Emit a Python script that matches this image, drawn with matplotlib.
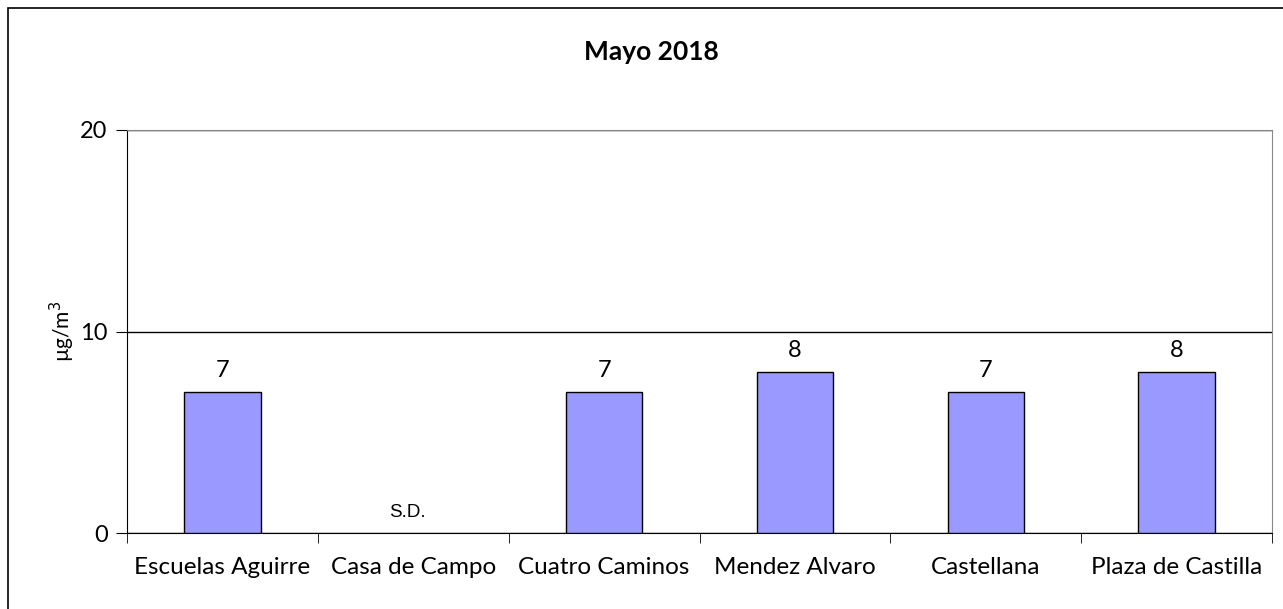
import matplotlib
matplotlib.use("Agg")
from matplotlib import pyplot as plt
from matplotlib.patches import Rectangle
import numpy as np

plt.rcParams['font.family'] = ['Lato', 'DejaVu Sans']

# data
stations = ["Escuelas Aguirre", "Casa de Campo", "Cuatro Caminos",
            "Mendez Alvaro", "Castellana", "Plaza de Castilla"]
values = [7, np.nan, 7, 8, 7, 8]   # Casa de Campo: sin datos
missing_label = "S.D."
yticks = [0, 10, 20]

fig = plt.figure(figsize=(12.83, 6.09), dpi=100)
ax = fig.add_axes([127 / 1283, 1 - 533 / 609, (1272 - 127) / 1283, (533 - 130) / 609])

# outer chart border (cut off at right/bottom like the source)
fig.patches.append(Rectangle((8 / 1283, -0.05), 1.2, 1 - 8 / 609 + 0.05,
                             transform=fig.transFigure, fill=False,
                             edgecolor='black', linewidth=1.2))

x = np.arange(len(stations))
vals = np.array(values, dtype=float)
ok = ~np.isnan(vals)
ax.bar(x[ok], vals[ok], width=0.4, color='#9999FF',
       edgecolor='black', linewidth=1.0, zorder=3)

for xi, v in zip(x, vals):
    if np.isnan(v):
        ax.text(xi - 0.03, 0.6, missing_label, ha='center', va='bottom',
                fontsize=13.5, family=['Liberation Sans', 'DejaVu Sans'])
    else:
        ax.annotate(f"{v:.0f}", (xi, v), xytext=(0, 8),
                    textcoords='offset points', ha='center', va='bottom',
                    fontsize=17)

ax.set_xlim(-0.5, len(stations) - 0.5)
ax.set_ylim(0, 20)
ax.set_yticks(yticks)
ax.set_yticklabels([str(t) for t in yticks], fontsize=17)
ax.set_xticks(x)
ax.set_xticklabels(stations, fontsize=17.5)
ax.tick_params(axis='x', length=0, pad=17)
ax.set_xticks(np.arange(-0.5, len(stations)), minor=True)
ax.tick_params(axis='x', which='minor', length=7, direction='out', color='black')
ax.tick_params(axis='y', length=8, direction='out', pad=6)

ax.grid(axis='y', color='black', linewidth=1.0, zorder=0)
ax.set_axisbelow(True)
for side in ['top', 'right']:
    ax.spines[side].set_color('#888888')
ax.spines['left'].set_color('black')
ax.spines['bottom'].set_color('black')

ax.set_ylabel("µg/m$^3$", fontsize=15, labelpad=2)
fig.text(651 / 1283, 1 - 52 / 609, "Mayo 2018", ha='center', va='center',
         fontsize=19, fontweight='bold')

fig.savefig("out.png", dpi=100)
